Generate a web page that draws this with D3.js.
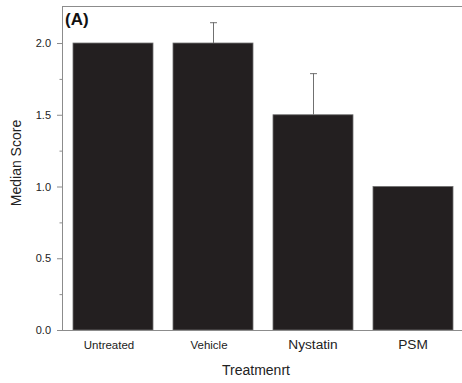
<!DOCTYPE html>
<html>
<head>
<meta charset="utf-8">
<script src="https://cdn.jsdelivr.net/npm/d3@7"></script>
<style>
  body { margin: 0; background: #fff; }
  svg { display: block; font-family: Arial, "Liberation Sans", sans-serif; }
</style>
</head>
<body>
<svg id="chart" width="462" height="383"></svg>
<script>
// Median score per treatment, with upper error extent
const categories = ["Untreated", "Vehicle", "Nystatin", "PSM"];
const medians = [2.0, 2.0, 1.5, 1.0];
const errorTops = [null, 2.145, 1.79, null];
const labelSizes = [11.5, 11.5, 13.7, 13.7];
const yTicks = [0, 0.5, 1.0, 1.5, 2.0];
const yMinorTicks = [0.25, 0.75, 1.25, 1.75];

const svg = d3.select("#chart");
const mLeft = 62, mRight = 462, mTop = 6, mBottom = 330;
const axisColor = "#8c8c8c";

const x = d3.scaleBand().domain(categories).range([mLeft + 1, mRight + 1]).paddingInner(0.2).paddingOuter(0.1);
const y = d3.scaleLinear().domain([0, 2.258]).range([mBottom, mTop]);

// Bars
svg.selectAll("rect.bar").data(categories).join("rect")
  .attr("class", "bar")
  .attr("x", d => x(d))
  .attr("width", x.bandwidth())
  .attr("y", (d, i) => y(medians[i]))
  .attr("height", (d, i) => y(0) - y(medians[i]))
  .attr("fill", "#231f20")
  .attr("stroke", "#6e6e6e")
  .attr("stroke-width", 0.8);

// Error bars (upper only)
const eb = categories.map((c, i) => ({ c, v: medians[i], t: errorTops[i] })).filter(d => d.t != null);
const g = svg.append("g").attr("stroke", "#707070").attr("stroke-width", 1);
g.selectAll("line.stem").data(eb).join("line")
  .attr("x1", d => x(d.c) + x.bandwidth() / 2 + 0.5)
  .attr("x2", d => x(d.c) + x.bandwidth() / 2 + 0.5)
  .attr("y1", d => y(d.v))
  .attr("y2", d => y(d.t));
g.selectAll("line.cap").data(eb).join("line")
  .attr("x1", d => x(d.c) + x.bandwidth() / 2 - 3)
  .attr("x2", d => x(d.c) + x.bandwidth() / 2 + 4)
  .attr("y1", d => y(d.t) + 0.5)
  .attr("y2", d => y(d.t) + 0.5);

// Y axis
const yAxis = svg.append("g").attr("transform", `translate(${mLeft},0)`)
  .call(d3.axisLeft(y).tickValues(yTicks).tickFormat(d3.format(".1f")).tickSize(5).tickPadding(6));
yAxis.select(".domain").remove();
yAxis.selectAll("line").attr("stroke", axisColor);
yAxis.selectAll("text").attr("font-size", 11).attr("fill", "#222");

svg.append("g").attr("transform", `translate(${mLeft},0)`)
  .call(d3.axisLeft(y).tickValues(yMinorTicks).tickSize(2.5).tickFormat(""))
  .call(s => s.select(".domain").remove())
  .selectAll("line").attr("stroke", axisColor);

svg.append("line").attr("x1", mLeft + 0.5).attr("x2", mLeft + 0.5).attr("y1", mTop).attr("y2", mBottom)
  .attr("stroke", axisColor);
svg.append("line").attr("x1", mLeft - 5).attr("x2", mRight).attr("y1", mBottom + 0.5).attr("y2", mBottom + 0.5)
  .attr("stroke", axisColor);
svg.append("line").attr("x1", mLeft).attr("x2", mRight).attr("y1", mTop + 0.5).attr("y2", mTop + 0.5)
  .attr("stroke", axisColor);

// Category labels
svg.selectAll("text.cat").data(categories).join("text")
  .attr("class", "cat")
  .attr("x", d => x(d) + x.bandwidth() / 2)
  .attr("dx", (d, i) => i < 2 ? -4 : 0)
  .attr("y", 348.5)
  .attr("text-anchor", "middle")
  .attr("font-size", (d, i) => labelSizes[i])
  .attr("fill", "#222")
  .text(d => d);

// Axis titles
svg.append("text").attr("x", 256).attr("y", 375)
  .attr("text-anchor", "middle").attr("font-size", 14).attr("fill", "#222").text("Treatmenrt");
svg.append("text").attr("transform", "translate(21,163) rotate(-90)")
  .attr("text-anchor", "middle").attr("font-size", 14).attr("fill", "#222").text("Median Score");

// Panel label
svg.append("text").attr("x", 65).attr("y", 24.5).attr("font-size", 17).attr("font-weight", "bold")
  .attr("fill", "#111").text("(A)");
</script>
</body>
</html>
